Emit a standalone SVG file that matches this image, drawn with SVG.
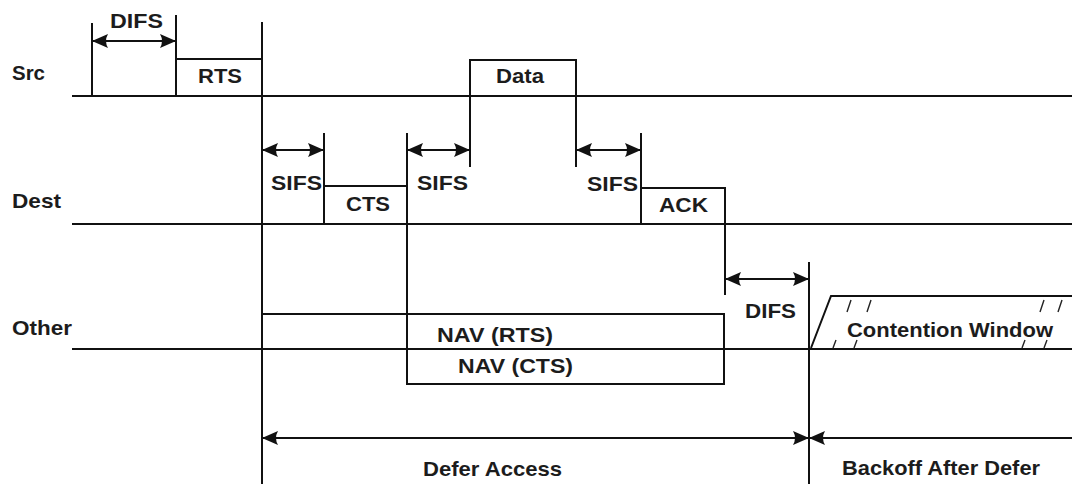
<svg xmlns="http://www.w3.org/2000/svg" width="1072" height="484" viewBox="0 0 1072 484">
<style>
.ln{stroke:#111;stroke-width:2;fill:none}
.th{stroke:#222;stroke-width:1.4;fill:none}
.ar{stroke:#111;stroke-width:2;fill:none;marker-end:url(#ah);marker-start:url(#ah)}
text{font-family:"Liberation Sans",Arial,sans-serif;font-size:20.5px;font-weight:bold;fill:#1c1c1c}
</style>
<defs>
<marker id="ah" viewBox="0 0 16 14" refX="15" refY="7" markerWidth="16" markerHeight="14" markerUnits="userSpaceOnUse" orient="auto-start-reverse">
<path d="M0,0 Q4,7 0,14 L16,7 Z" fill="#111"/>
</marker>
</defs>
<rect width="1072" height="484" fill="#fff"/>
<g id="labels">
<text x="12" y="80" textLength="33" lengthAdjust="spacingAndGlyphs">Src</text>
<text x="12" y="208" textLength="49" lengthAdjust="spacingAndGlyphs">Dest</text>
<text x="12" y="335" textLength="60" lengthAdjust="spacingAndGlyphs">Other</text>
</g>
<g id="timelines">
<line class="ln" x1="72" y1="96" x2="1072" y2="96"/>
<line class="ln" x1="72" y1="224" x2="1072" y2="224"/>
<line class="ln" x1="72" y1="349" x2="1072" y2="349"/>
</g>
<g id="rts">
<path class="ln" d="M176,96 V59 H262"/>
<text x="198" y="83" textLength="44" lengthAdjust="spacingAndGlyphs">RTS</text>
</g>
<g id="data">
<path class="ln" d="M470,167 V60 H576 V167"/>
<text x="496" y="83" textLength="48" lengthAdjust="spacingAndGlyphs">Data</text>
</g>
<g id="cts">
<path class="ln" d="M324,133 V224 M324,186 H407"/>
<text x="346" y="211" textLength="44" lengthAdjust="spacingAndGlyphs">CTS</text>
</g>
<g id="ack">
<path class="ln" d="M641,133 V224 M641,188 H725 V295"/>
<text x="659" y="212" textLength="49" lengthAdjust="spacingAndGlyphs">ACK</text>
</g>
<g id="nav-rts">
<path class="ln" d="M262,314 H724 V349"/>
<text x="437" y="342" textLength="116" lengthAdjust="spacingAndGlyphs">NAV (RTS)</text>
</g>
<g id="nav-cts">
<path class="ln" d="M407,133 V384 H724 V349"/>
<text x="458" y="373" textLength="115" lengthAdjust="spacingAndGlyphs">NAV (CTS)</text>
</g>
<g id="contention">
<path class="ln" d="M811,348 L831,296 H1072"/>
<path class="th" d="M851,300 L847,312 M871,300 L867,312 M1044,300 L1040,312 M1062,300 L1058,312 M836,340 L833,348 M857,340 L854,348 M1025,340 L1022,348 M1047,340 L1044,348"/>
<text x="847" y="337" textLength="206" lengthAdjust="spacingAndGlyphs">Contention Window</text>
</g>
<g id="connectors">
<line class="ln" x1="262" y1="22" x2="262" y2="484"/>
<line class="ln" x1="809" y1="262" x2="809" y2="484"/>
<line class="ln" x1="92" y1="23" x2="92" y2="96"/>
<line class="ln" x1="176" y1="15" x2="176" y2="96"/>
<line class="ar" x1="93" y1="41" x2="175" y2="41"/>
<line class="ar" x1="263" y1="150" x2="323" y2="150"/>
<line class="ar" x1="408" y1="150" x2="469" y2="150"/>
<line class="ar" x1="577" y1="150" x2="640" y2="150"/>
<line class="ar" x1="726" y1="279" x2="808" y2="279"/>
<line class="ar" x1="263" y1="438" x2="808" y2="438"/>
<line class="ln" x1="1072" y1="438" x2="810" y2="438" marker-end="url(#ah)"/>
</g>
<g id="interval-labels">
<text x="110" y="28" textLength="53" lengthAdjust="spacingAndGlyphs">DIFS</text>
<text x="271" y="190" textLength="51" lengthAdjust="spacingAndGlyphs">SIFS</text>
<text x="417" y="190" textLength="51" lengthAdjust="spacingAndGlyphs">SIFS</text>
<text x="587" y="191" textLength="51" lengthAdjust="spacingAndGlyphs">SIFS</text>
<text x="745" y="318" textLength="51" lengthAdjust="spacingAndGlyphs">DIFS</text>
<text x="423" y="476" textLength="139" lengthAdjust="spacingAndGlyphs">Defer Access</text>
<text x="842" y="475" textLength="198" lengthAdjust="spacingAndGlyphs">Backoff After Defer</text>
</g>
</svg>
